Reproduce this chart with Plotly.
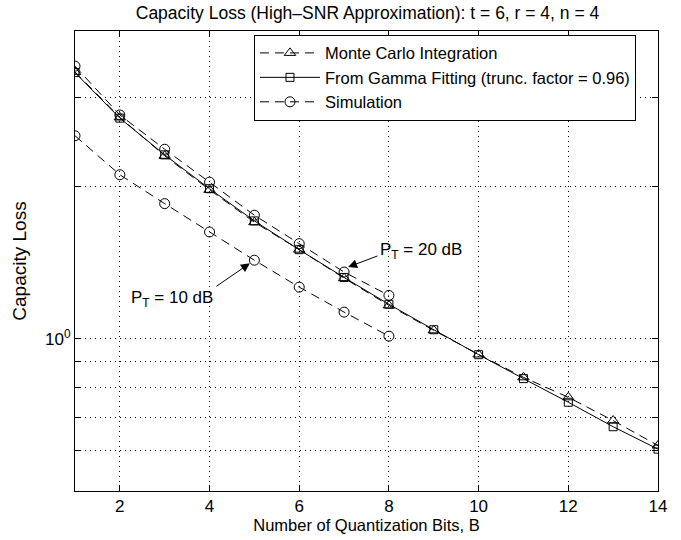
import math
import plotly.graph_objects as go

# Quantization bits
bits_20db = list(range(1, 15))
bits_sim = list(range(1, 9))

# Capacity loss, P_T = 20 dB
monte_carlo_20db = [3.37, 2.74, 2.30, 1.97, 1.70, 1.50, 1.318, 1.164, 1.039, 0.931, 0.839, 0.766, 0.689, 0.615]
gamma_fit_20db = [3.36, 2.73, 2.31, 1.98, 1.71, 1.50, 1.322, 1.170, 1.042, 0.930, 0.834, 0.749, 0.670, 0.605]
simulation_20db = [3.46, 2.77, 2.37, 2.04, 1.755, 1.542, 1.355, 1.218]

# Capacity loss, P_T = 10 dB
simulation_10db = [2.52, 2.11, 1.85, 1.626, 1.43, 1.265, 1.129, 1.012]

# Axis ticks
x_ticks = [2, 4, 6, 8, 10, 12, 14]
y_major_ticks = [1]
y_major_text = ["10<sup>0</sup>"]
y_minor_ticks = [0.6, 0.7, 0.8, 0.9, 2, 3]

FONT = "Liberation Sans, Arial, Helvetica, sans-serif"
BLACK = "black"
GRID_DASH = "1px,4px"

fig = go.Figure()

fig.add_trace(go.Scatter(
    x=bits_20db, y=monte_carlo_20db, mode="lines+markers",
    name="Monte Carlo Integration",
    line=dict(color=BLACK, width=1, dash="9px,6px"),
    marker=dict(symbol="triangle-up-open", size=10, color=BLACK, line=dict(width=1)),
))
fig.add_trace(go.Scatter(
    x=bits_20db, y=gamma_fit_20db, mode="lines+markers",
    name="From Gamma Fitting (trunc. factor = 0.96)",
    line=dict(color=BLACK, width=1),
    marker=dict(symbol="square-open", size=8, color=BLACK, line=dict(width=1)),
))
fig.add_trace(go.Scatter(
    x=bits_sim, y=simulation_20db, mode="lines+markers",
    name="Simulation",
    line=dict(color=BLACK, width=1, dash="9px,6px"),
    marker=dict(symbol="circle-open", size=10, color=BLACK, line=dict(width=1)),
))
fig.add_trace(go.Scatter(
    x=bits_sim, y=simulation_10db, mode="lines+markers",
    name="Simulation", showlegend=False,
    line=dict(color=BLACK, width=1, dash="9px,6px"),
    marker=dict(symbol="circle-open", size=10, color=BLACK, line=dict(width=1)),
))

# Curve labels with pointer arrows
arrows = [
    # (head x, head y, tail x, tail y)
    (7.09, 1.386, 7.78, 1.462),
    (4.90, 1.41, 4.12, 1.264),
]
for hx, hy, tx, ty in arrows:
    fig.add_annotation(
        x=hx, y=math.log10(hy), ax=tx, ay=math.log10(ty),
        xref="x", yref="y", axref="x", ayref="y",
        text="", showarrow=True, arrowhead=2, arrowsize=1.8,
        arrowwidth=1, arrowcolor=BLACK,
    )

fig.add_annotation(
    x=7.76, y=math.log10(1.49), xref="x", yref="y",
    text="P<sub>T</sub> = 20 dB", showarrow=False,
    xanchor="left", yanchor="middle",
    font=dict(family=FONT, size=17, color=BLACK),
)
fig.add_annotation(
    x=4.13, y=math.log10(1.20), xref="x", yref="y",
    text="P<sub>T</sub> = 10 dB", showarrow=False,
    xanchor="right", yanchor="middle",
    font=dict(family=FONT, size=17, color=BLACK),
)

axis_common = dict(
    showline=True, linecolor=BLACK, linewidth=1, mirror="ticks",
    ticks="inside", ticklen=6, tickcolor=BLACK,
    showgrid=True, gridcolor=BLACK, gridwidth=1, griddash=GRID_DASH,
    zeroline=False,
    tickfont=dict(family=FONT, size=17, color=BLACK),
)

fig.update_xaxes(
    range=[1, 14], tickmode="array", tickvals=x_ticks,
    title=dict(text="Number of Quantization Bits, B", standoff=1,
               font=dict(family=FONT, size=16.5, color=BLACK)),
    **axis_common,
)
fig.update_yaxes(
    type="log", range=[math.log10(0.5), math.log10(4.06)],
    tickmode="array", tickvals=y_major_ticks, ticktext=y_major_text,
    minor=dict(tickmode="array", tickvals=y_minor_ticks, ticks="inside",
               ticklen=6, tickcolor=BLACK, showgrid=True,
               gridcolor=BLACK, gridwidth=1, griddash=GRID_DASH),
    title=dict(text="Capacity Loss", standoff=13,
               font=dict(family=FONT, size=19, color=BLACK)),
    **axis_common,
)

fig.update_layout(
    width=681, height=540,
    margin=dict(l=75, r=23, t=31, b=49),
    paper_bgcolor="white", plot_bgcolor="white",
    title=dict(text="Capacity Loss (High\u2013SNR Approximation): t = 6, r = 4, n = 4",
               x=367.5 / 681, xanchor="center", y=1 - 12.5 / 540, yanchor="middle",
               font=dict(family=FONT, size=17.5, color=BLACK)),
    font=dict(family=FONT, color=BLACK),
    legend=dict(
        x=0.307, y=0.992, xanchor="left", yanchor="top",
        bgcolor="white", bordercolor=BLACK, borderwidth=1,
        font=dict(family=FONT, size=16.5, color=BLACK),
        itemwidth=60, tracegroupgap=0,
    ),
    showlegend=True,
)

fig.write_html("out.html")
